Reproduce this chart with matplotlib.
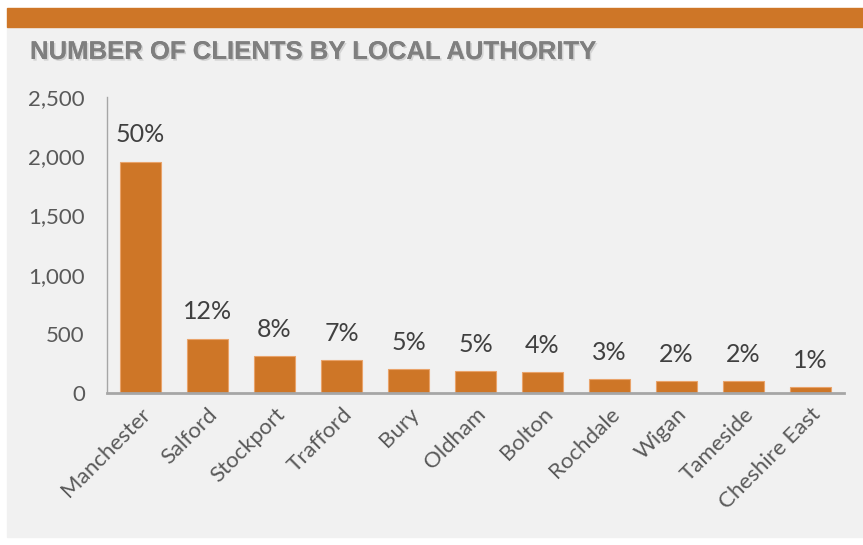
import matplotlib
matplotlib.use('Agg')
import matplotlib.pyplot as plt
import matplotlib.patheffects as pe
from matplotlib.patches import Rectangle

AUTHORITIES = ['Manchester', 'Salford', 'Stockport', 'Trafford', 'Bury', 'Oldham',
               'Bolton', 'Rochdale', 'Wigan', 'Tameside', 'Cheshire East']
CLIENTS = [1953, 460, 311, 278, 202, 183, 174, 118, 98, 98, 51]
SHARE = ['50%', '12%', '8%', '7%', '5%', '5%', '4%', '3%', '2%', '2%', '1%']

ORANGE = '#CE7627'
PANEL = '#F1F1F1'
TXT = '#595959'

plt.rcParams['font.family'] = ['Lato', 'DejaVu Sans']

fig = plt.figure(figsize=(8.63, 5.45), dpi=100)
fig.patch.set_facecolor('white')
# grey panel + orange header band
fig.patches.append(Rectangle((7 / 863, 1 - 537 / 545), 856 / 863, 510 / 545,
                             transform=fig.transFigure, color=PANEL, zorder=-2))
fig.patches.append(Rectangle((7 / 863, 1 - 27 / 545), 856 / 863, 19 / 545,
                             transform=fig.transFigure, color=ORANGE, zorder=-1))

fig.text(30 / 863, 1 - 52 / 545, 'NUMBER OF CLIENTS BY LOCAL AUTHORITY',
         family='Liberation Sans', fontweight='bold', fontsize=18.5, color='#7F7F7F',
         va='center', ha='left',
         path_effects=[pe.withSimplePatchShadow(offset=(1.2, -1.2), shadow_rgbFace='#d0d0d0', alpha=0.9),
                       pe.Normal()])

ax = fig.add_axes([107 / 863, 1 - 393 / 545, 737 / 863, 296 / 545])
ax.set_zorder(3)
ax.set_facecolor('none')
x = range(len(AUTHORITIES))
bars = ax.bar(x, CLIENTS, width=0.61, color=ORANGE, edgecolor='#E9A36A', linewidth=0.8, zorder=2)
for b, s in zip(bars, SHARE):
    ax.annotate(s, (b.get_x() + b.get_width() / 2, b.get_height()), xytext=(0, 11),
                textcoords='offset points', ha='center', va='bottom', fontsize=18, color='#404040')

ax.set_xlim(-0.5, len(AUTHORITIES) - 0.5)
ax.set_ylim(0, 2500)
ax.set_yticks(range(0, 2501, 500))
ax.set_yticklabels([f'{v:,}' for v in range(0, 2501, 500)])
ax.set_xticks(list(x))
ax.set_xticklabels(AUTHORITIES, rotation=45, ha='right', rotation_mode='anchor')
ax.tick_params(axis='y', length=0, colors=TXT, labelsize=16, pad=16)
ax.tick_params(axis='x', length=0, colors=TXT, labelsize=16, pad=8)
for side in ('top', 'right'):
    ax.spines[side].set_visible(False)
ax.spines['left'].set_color('#A6A6A6')
ax.spines['bottom'].set_color('#A6A6A6')
ax.spines['bottom'].set_linewidth(2)
ax.spines['left'].set_linewidth(1)

fig.savefig('out.png', dpi=100)
